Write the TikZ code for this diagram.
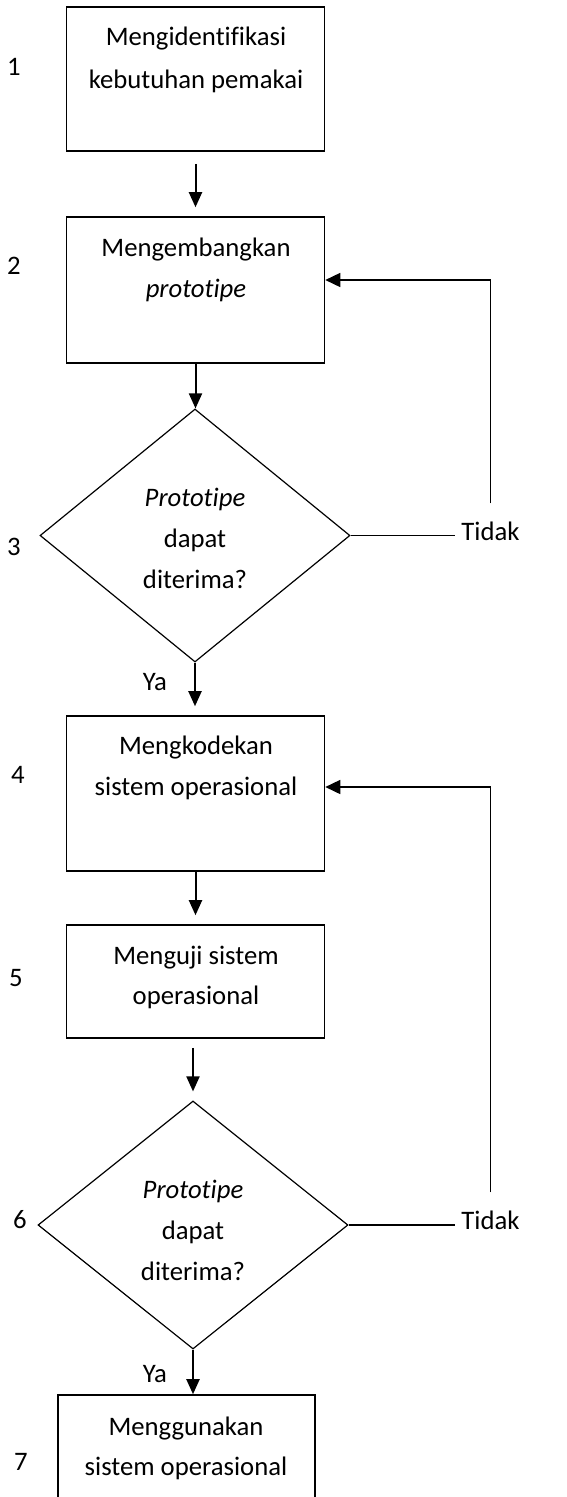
\documentclass[tikz,border=0pt]{standalone}
\usepackage{fontspec}
\setmainfont{Carlito}[Ligatures=NoCommon]
\usetikzlibrary{shapes.geometric,arrows.meta}
\begin{document}
\begin{tikzpicture}[x=1pt,y=-1pt,
  every node/.style={font=\fontsize{26.7}{41}\selectfont},
  box/.style={draw, line width=1.6pt, minimum width=258pt, inner sep=0pt},
  decision/.style={draw, shape=diamond, line width=1.2pt, inner sep=0pt, minimum width=310pt},
  txt/.style={anchor=base, align=center, inner sep=0pt},
  num/.style={anchor=base, inner sep=0pt},
  answer/.style={anchor=base, inner xsep=6pt, inner ysep=18pt},
  arr/.style={line width=2pt, -{Triangle[length=15pt, width=13pt]}},
  back/.style={line width=1.6pt, -{Triangle[length=15pt, width=14pt]}},
  plain/.style={line width=1.4pt}]
\useasboundingbox (0,0) rectangle (566,1497);

% process boxes and decisions
\node[box, minimum height=144pt] (b1) at (195.5,79) {};
\node[box, minimum height=146pt] (b2) at (195.5,290) {};
\node[decision, minimum height=253pt] (d1) at (195,535.5) {};
\node[box, minimum height=155pt] (b4) at (195.5,793.5) {};
\node[box, minimum height=113pt] (b5) at (195.5,981.5) {};
\node[decision, minimum height=248pt] (d2) at (193,1225) {};
\node[box, minimum width=257pt, minimum height=150pt] (b7) at (186.5,1470) {};

% texts (anchored at the baseline of their last line)
\node[txt] (t1) at (196,88) {Mengidentifikasi\\[2pt]kebutuhan pemakai};
\node[txt] (t2) at (196,297) {Mengembangkan\\\textit{prototipe}};
\node[txt] (t3) at (195,588) {\textit{Prototipe}\\dapat\\diterima?};
\node[txt] (t4) at (196,795) {Mengkodekan\\sistem operasional};
\node[txt] (t5) at (196,1004) {Menguji sistem\\[-1pt]operasional};
\node[txt] (t6) at (193,1280) {\textit{Prototipe}\\dapat\\diterima?};
\node[txt] (t7) at (186,1475) {Menggunakan\\[-1pt]sistem operasional};

% step numbers
\node[num] (n1) at (14,75) {1};
\node[num] (n2) at (14,274) {2};
\node[num] (n3) at (14,555) {3};
\node[num] (n4) at (18,783) {4};
\node[num] (n5) at (16,986) {5};
\node[num] (n6) at (20,1228) {6};
\node[num] (n7) at (21,1470) {7};

% answers
\node[num] (y1) at (155,690) {Ya};
\node[num] (y2) at (155,1382) {Ya};
\node[answer] (k1) at (490.5,540) {Tidak};
\node[answer] (k2) at (490.5,1229) {Tidak};

% main flow
\draw[arr, shorten <=12pt, shorten >=9pt] (b1) -- (b2);
\draw[arr] (b2.south) -- (b2.south |- d1.north);
\draw[arr, shorten >=9pt] (d1.south) -- (d1.south |- b4.north);
\draw[arr, shorten >=9pt] (b4.south) -- (b5.north);
\draw[arr, shorten <=9pt, shorten >=9pt] (b5.south -| d2.north) -- (d2.north);
\draw[arr] (d2.south) -- (d2.south |- b7.north);

% loops back on rejection
\coordinate (r1) at (490,280);
\coordinate (r2) at (490,787);
\draw[plain] (d1.east) -- (d1.east -| k1.west);
\draw[back] (k1.north) -- (k1.north |- r1) -- (b2.east |- r1);
\draw[plain] (d2.east) -- (d2.east -| k2.west);
\draw[back] (k2.north) -- (k2.north |- r2) -- (b4.east |- r2);
\end{tikzpicture}
\end{document}
